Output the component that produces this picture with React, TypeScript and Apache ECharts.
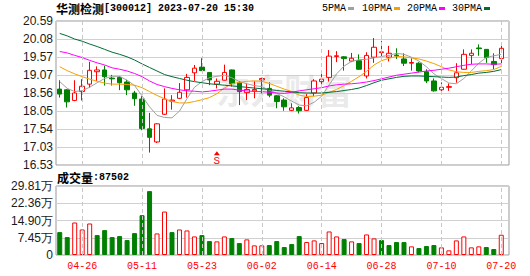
import React, { useEffect, useRef } from 'react';
import * as echarts from 'echarts';

const dates = [
  '04-21', '04-24', '04-25', '04-26', '04-27', '04-28', '05-04', '05-05', '05-08', '05-09',
  '05-10', '05-11', '05-12', '05-15', '05-16', '05-17', '05-18', '05-19', '05-22', '05-23',
  '05-24', '05-25', '05-26', '05-29', '05-30', '05-31', '06-01', '06-02', '06-05', '06-06',
  '06-07', '06-08', '06-09', '06-12', '06-13', '06-14', '06-15', '06-16', '06-19', '06-20',
  '06-21', '06-26', '06-27', '06-28', '06-29', '06-30', '07-03', '07-04', '07-05', '07-06',
  '07-07', '07-10', '07-11', '07-12', '07-13', '07-14', '07-17', '07-18', '07-19', '07-20',
];

// [open, close, low, high]
const ohlc = [
  [18.67, 18.53, 18.43, 18.92], [18.65, 18.31, 18.15, 18.67], [18.35, 18.56, 18.33, 18.92],
  [18.60, 18.75, 18.35, 18.95], [18.81, 19.20, 18.71, 19.44], [19.16, 19.21, 18.90, 19.31],
  [19.21, 19.02, 18.77, 19.33], [18.98, 18.96, 18.77, 19.07], [19.00, 18.85, 18.64, 19.03],
  [18.87, 18.65, 18.50, 18.93], [18.56, 18.40, 18.20, 18.62], [18.39, 17.56, 17.51, 18.47],
  [17.55, 17.31, 16.88, 18.00], [17.18, 17.69, 17.15, 17.71], [17.96, 18.39, 17.94, 18.69],
  [18.33, 18.36, 18.09, 18.50], [18.41, 18.58, 18.39, 18.84], [18.65, 19.00, 18.43, 19.10],
  [19.13, 19.26, 18.90, 19.35], [19.29, 19.19, 19.18, 19.54], [19.14, 18.93, 18.78, 19.15],
  [18.81, 18.89, 18.69, 18.97], [18.92, 19.14, 18.91, 19.36], [19.21, 18.82, 18.74, 19.22],
  [18.85, 18.60, 18.22, 18.90], [18.57, 18.66, 18.36, 18.83], [18.62, 18.66, 18.41, 18.89],
  [18.93, 18.97, 18.55, 18.99], [18.69, 18.50, 18.44, 18.86], [18.48, 18.32, 18.13, 18.50],
  [18.36, 18.17, 18.06, 18.41], [18.07, 18.14, 18.05, 18.27], [18.15, 18.06, 17.98, 18.19],
  [18.07, 18.43, 18.06, 18.53], [18.56, 18.90, 18.47, 18.95], [18.88, 18.95, 18.80, 19.13],
  [19.00, 19.60, 18.88, 19.77], [19.59, 19.61, 19.43, 19.74], [19.58, 19.53, 19.19, 19.60],
  [19.46, 19.54, 19.43, 19.69], [19.47, 19.23, 19.21, 19.65], [19.04, 19.62, 18.97, 19.71],
  [19.57, 19.85, 19.41, 20.11], [19.70, 19.72, 19.57, 20.03], [19.57, 19.68, 19.45, 19.89],
  [19.63, 19.61, 19.52, 19.82], [19.52, 19.40, 19.32, 19.68], [19.40, 19.42, 19.19, 19.54],
  [19.40, 19.18, 19.14, 19.43], [19.16, 18.90, 18.84, 19.23], [18.90, 18.62, 18.60, 18.97],
  [18.65, 18.72, 18.59, 18.86], [18.72, 18.74, 18.62, 18.83], [18.99, 19.13, 18.85, 19.40],
  [19.23, 19.65, 19.22, 19.79], [19.62, 19.68, 19.37, 19.79], [19.83, 19.81, 19.61, 19.93],
  [19.79, 19.56, 19.41, 19.80], [19.45, 19.36, 19.23, 19.68], [19.53, 19.82, 19.37, 19.99],
];

// volume in 万
const volumes = [
  9.89, 7.74, 14.04, 11.03, 13.61, 8.60, 10.75, 7.74, 8.17, 6.45,
  9.46, 17.20, 27.6, 9.31, 18.77, 9.89, 11.03, 10.60, 8.02, 8.60,
  6.02, 5.88, 8.02, 7.31, 5.16, 6.74, 4.16, 4.16, 4.30, 6.02,
  3.44, 4.73, 8.17, 5.59, 6.31, 5.16, 10.17, 8.02, 6.88, 5.88,
  5.16, 8.88, 7.17, 6.45, 4.30, 5.59, 5.59, 3.73, 3.01, 3.87,
  4.30, 3.30, 2.01, 6.31, 8.02, 3.30, 3.73, 3.44, 2.58, 8.75,
];
const volUp = [
  0, 0, 1, 1, 1, 0, 0, 0, 0, 0,
  0, 0, 0, 1, 1, 0, 1, 1, 1, 0,
  0, 1, 1, 0, 0, 1, 1, 1, 0, 0,
  0, 0, 0, 1, 1, 1, 1, 1, 0, 1,
  0, 1, 1, 0, 0, 0, 0, 1, 0, 0,
  0, 1, 1, 1, 1, 1, 1, 0, 0, 1,
];

const ma5 = [
  18.88, 18.69, 18.60, 18.63, 18.72, 18.85, 18.97, 19.03, 19.03, 18.92,
  18.77, 18.48, 18.17, 17.93, 17.87, 17.86, 18.05, 18.40, 18.72, 18.88,
  18.99, 19.03, 19.06, 18.99, 18.88, 18.82, 18.77, 18.74, 18.64, 18.55,
  18.45, 18.33, 18.22, 18.20, 18.30, 18.47, 18.79, 19.10, 19.32, 19.45,
  19.50, 19.51, 19.55, 19.59, 19.62, 19.68, 19.65, 19.57, 19.46, 19.30,
  19.10, 18.97, 18.84, 18.82, 18.97, 19.18, 19.40, 19.56, 19.61, 19.65,
];
const ma10 = [
  19.30, 19.19, 19.10, 19.02, 18.95, 18.89, 18.84, 18.81, 18.81, 18.80,
  18.78, 18.71, 18.60, 18.49, 18.40, 18.32, 18.28, 18.28, 18.32, 18.37,
  18.43, 18.54, 18.70, 18.82, 18.86, 18.89, 18.90, 18.89, 18.83, 18.75,
  18.67, 18.60, 18.50, 18.46, 18.47, 18.50, 18.58, 18.66, 18.77, 18.89,
  19.02, 19.17, 19.35, 19.47, 19.54, 19.59, 19.58, 19.55, 19.52, 19.46,
  19.39, 19.30, 19.21, 19.16, 19.14, 19.14, 19.17, 19.19, 19.22, 19.31,
];
const ma20 = [
  19.73, 19.69, 19.62, 19.56, 19.48, 19.41, 19.35, 19.27, 19.23, 19.18,
  19.11, 19.02, 18.90, 18.80, 18.74, 18.69, 18.65, 18.62, 18.61, 18.59,
  18.61, 18.64, 18.67, 18.67, 18.64, 18.62, 18.60, 18.60, 18.58, 18.56,
  18.55, 18.58, 18.62, 18.65, 18.68, 18.71, 18.76, 18.79, 18.81, 18.82,
  18.84, 18.87, 18.91, 18.96, 19.01, 19.06, 19.09, 19.12, 19.15, 19.18,
  19.20, 19.23, 19.26, 19.30, 19.34, 19.37, 19.38, 19.38, 19.37, 19.38,
];
const ma30 = [
  20.24, 20.17, 20.08, 20.02, 19.94, 19.87, 19.79, 19.71, 19.65, 19.58,
  19.49, 19.38, 19.28, 19.18, 19.08, 19.02, 18.97, 18.92, 18.88, 18.85,
  18.82, 18.80, 18.78, 18.76, 18.74, 18.72, 18.70, 18.68, 18.66, 18.63,
  18.61, 18.59, 18.57, 18.56, 18.56, 18.56, 18.58, 18.60, 18.63, 18.66,
  18.70, 18.77, 18.85, 18.92, 18.96, 19.00, 19.03, 19.04, 19.04, 19.03,
  19.02, 19.01, 19.00, 19.01, 19.05, 19.08, 19.12, 19.14, 19.17, 19.22,
];

const priceTicks = ['16.53', '17.03', '17.54', '18.05', '18.56', '19.07', '19.57', '20.08', '20.59'];
const volTicks = ['0', '7.45万', '14.90万', '22.36万', '29.81万'];
const labelDates = ['04-26', '05-11', '05-23', '06-02', '06-14', '06-28', '07-10', '07-20'];
const signalDate = '05-25';
const signalPrice = 16.86;
const priceMin = 16.53;
const priceMax = 20.59;
const volMax = 29.81;

const legendItems = [
  { name: '5PMA', color: '#a0a0a0' },
  { name: '10PMA', color: '#f5a000' },
  { name: '20PMA', color: '#ff00ff' },
  { name: '30PMA', color: '#006b35' },
];

const UP = '#ff0000';
const DOWN = '#008000';

export default function App() {
  const ref = useRef<HTMLDivElement>(null);
  useEffect(() => {
    const chart = echarts.init(ref.current!, null, { renderer: 'svg' });
    const vline = {
      silent: true,
      symbol: ['none', 'none'],
      label: { show: false },
      lineStyle: { color: '#c8c8c8', type: [4, 3], width: 1 },
      emphasis: { disabled: true },
      data: labelDates.map((d) => ({ xAxis: d })),
    };
    const legendX = [322, 362, 407, 452];
    const legendGraphics: any[] = [];
    legendItems.forEach((it, i) => {
      legendGraphics.push({
        type: 'text',
        x: legendX[i],
        y: 8.5,
        style: {
          text: it.name,
          fill: '#000',
          fontSize: 10,
          fontFamily: 'Liberation Mono',
          verticalAlign: 'middle',
        },
      });
      legendGraphics.push({
        type: 'rect',
        shape: { x: legendX[i] + it.name.length * 6 + 2, y: 7, width: 6, height: 3 },
        style: { fill: it.color },
      });
    });
    const ma = [ma5, ma10, ma20, ma30];
    chart.setOption({
      animation: false,
      backgroundColor: '#fff',
      title: [
        {
          text: '{a|华测检测}{b|[300012] 2023-07-20 15:30}',
          left: 56,
          top: 2,
          padding: 0,
          textStyle: {
            rich: {
              a: { fontSize: 12, fontFamily: 'Noto Sans CJK SC', color: '#000' },
              b: { fontSize: 10, fontFamily: 'Liberation Mono', color: '#000' },
            },
          },
        },
        {
          text: '{a|成交量}{b|:87502}',
          left: 57,
          top: 171,
          padding: 0,
          textStyle: {
            rich: {
              a: { fontSize: 12, fontFamily: 'Noto Sans CJK SC', color: '#000' },
              b: { fontSize: 10, fontFamily: 'Liberation Mono', color: '#000' },
            },
          },
        },
      ],
      graphic: [
        {
          type: 'text',
          x: 216,
          y: 72,
          z: 1,
          style: {
            text: '东方财富',
            fontSize: 34,
            fontWeight: 'bold',
            fontFamily: 'Noto Sans CJK SC',
            fill: 'rgba(160,160,160,0.22)',
          },
        },
        ...legendGraphics,
      ],
      grid: [
        { left: 56, top: 21, width: 453, height: 144, show: true, borderColor: '#999', borderWidth: 1 },
        { left: 56, top: 21, width: 449, height: 144 },
        { left: 56, top: 186, width: 453, height: 69, show: true, borderColor: '#999', borderWidth: 1 },
        { left: 56, top: 186, width: 449, height: 69 },
      ],
      xAxis: [
        { gridIndex: 0, type: 'value', min: 0, max: 1, show: false },
        { gridIndex: 1, type: 'category', data: dates, boundaryGap: true, show: false },
        { gridIndex: 2, type: 'value', min: 0, max: 1, show: false },
        {
          gridIndex: 3,
          type: 'category',
          data: dates,
          boundaryGap: true,
          axisLine: { show: false },
          axisTick: { show: false },
          splitLine: { show: false },
          axisLabel: {
            interval: (_i: number, v: string) => labelDates.includes(v),
            color: '#ff0000',
            fontFamily: 'Liberation Mono',
            fontSize: 10,
            margin: 6,
            hideOverlap: false,
          },
        },
      ],
      yAxis: [
        {
          gridIndex: 0,
          type: 'value',
          min: 0,
          max: 8,
          interval: 1,
          axisLine: { show: false },
          axisTick: { show: false },
          splitLine: { show: true, lineStyle: { color: '#d0d0d0', width: 1 } },
          axisLabel: {
            formatter: (v: number) => priceTicks[Math.round(v)],
            color: '#1a1a1a',
            fontFamily: 'Liberation Sans',
            fontSize: 12,
            margin: 3,
          },
        },
        { gridIndex: 1, type: 'value', min: priceMin, max: priceMax, show: false },
        {
          gridIndex: 2,
          type: 'value',
          min: 0,
          max: 4,
          interval: 1,
          axisLine: { show: false },
          axisTick: { show: false },
          splitLine: { show: true, lineStyle: { color: '#d0d0d0', width: 1 } },
          axisLabel: {
            formatter: (v: number) => volTicks[Math.round(v)],
            color: '#1a1a1a',
            fontFamily: 'Liberation Sans',
            fontSize: 12,
            margin: 3,
          },
        },
        { gridIndex: 3, type: 'value', min: 0, max: volMax, show: false },
      ],
      series: [
        {
          type: 'candlestick',
          xAxisIndex: 1,
          yAxisIndex: 1,
          data: ohlc,
          barWidth: 5,
          itemStyle: {
            color: '#ffffff',
            color0: DOWN,
            borderColor: UP,
            borderColor0: DOWN,
            borderWidth: 1,
          },
          markLine: vline,
          markPoint: {
            silent: true,
            data: [
              {
                coord: [signalDate, signalPrice],
                symbol: 'triangle',
                symbolSize: [6, 4],
                itemStyle: { color: UP },
                label: {
                  show: true,
                  position: 'bottom',
                  distance: 0,
                  formatter: 'S',
                  color: UP,
                  fontSize: 11,
                  fontFamily: 'Liberation Mono',
                },
              },
            ],
          },
        },
        ...legendItems.map((it, i) => ({
          type: 'line',
          name: it.name,
          xAxisIndex: 1,
          yAxisIndex: 1,
          data: ma[i],
          showSymbol: false,
          symbol: 'none',
          lineStyle: { color: it.color, width: 1 },
          itemStyle: { color: it.color },
          z: 3,
        })),
        {
          type: 'bar',
          xAxisIndex: 3,
          yAxisIndex: 3,
          barWidth: 5,
          data: volumes.map((v, i) => ({
            value: v,
            itemStyle: volUp[i]
              ? { color: '#ffffff', borderColor: UP, borderWidth: 1 }
              : { color: DOWN, borderColor: DOWN, borderWidth: 1 },
          })),
          markLine: vline,
        },
      ],
    });
    return () => chart.dispose();
  }, []);
  return <div ref={ref} style={{ position: 'fixed', left: 0, top: 0, width: 530, height: 276 }} />;
}
